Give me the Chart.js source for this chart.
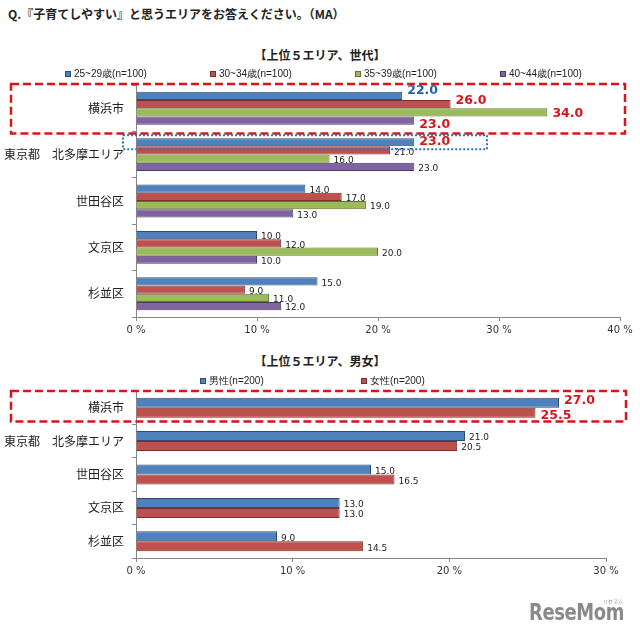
<!DOCTYPE html>
<html lang="ja">
<head>
    <meta charset="UTF-8">
    <title>子育てしやすいエリア</title>
    <style>
        body {
            margin: 0;
            background: #fff;
            width: 640px;
            height: 638px;
            position: relative;
            overflow: hidden;
            font-family: "Noto Sans CJK JP", sans-serif;
            color: #222;
        }

        .q-title {
            position: absolute;
            left: 8px;
            top: 5px;
            font-size: 12px;
            font-weight: bold;
        }

        .sub-title {
            position: absolute;
            left: 0;
            width: 640px;
            text-align: center;
            font-size: 12px;
            font-weight: bold;
        }

        .chart-box {
            position: absolute;
            left: 0;
            width: 640px;
        }

        .logo {
            position: absolute;
            left: 529px;
            top: 599px;
            font-family: "DejaVu Sans", sans-serif;
            font-weight: bold;
            font-size: 23px;
            color: #8a8a8a;
            transform: scaleX(0.78);
            transform-origin: left top;
            letter-spacing: -0.5px;
        }

        .logo-kana {
            position: absolute;
            left: 603px;
            top: 597px;
            font-size: 5px;
            color: #8a8a8a;
        }
    </style>
</head>
<body>
<div class="q-title">Q.『子育てしやすい』と思うエリアをお答えください。（MA）</div>
<div class="sub-title" style="top:46px;">【上位５エリア、世代】</div>
<div class="sub-title" style="top:352px;">【上位５エリア、男女】</div>

<div class="chart-box" style="top:0; height:345px;"><canvas id="ageChart"></canvas></div>
<div class="chart-box" style="top:345px; height:293px;"><canvas id="genderChart"></canvas></div>

<div class="logo-kana">リセマム</div>
<div class="logo">ReseMom</div>

<script src="https://cdn.jsdelivr.net/npm/chart.js"></script>
<script>
    // データ
    const areas = ['横浜市', '東京都　北多摩エリア', '世田谷区', '文京区', '杉並区'];
    const ageLabels = ['25~29歳(n=100)', '30~34歳(n=100)', '35~39歳(n=100)', '40~44歳(n=100)'];
    const age25 = [22.0, 23.0, 14.0, 10.0, 15.0];
    const age30 = [26.0, 21.0, 17.0, 12.0, 9.0];
    const age35 = [34.0, 16.0, 19.0, 20.0, 11.0];
    const age40 = [23.0, 23.0, 13.0, 10.0, 12.0];
    const ageTicks = [0, 10, 20, 30, 40];

    const genderLabels = ['男性(n=200)', '女性(n=200)'];
    const male = [27.0, 21.0, 15.0, 13.0, 9.0];
    const female = [25.5, 20.5, 16.5, 13.0, 14.5];
    const genderTicks = [0, 10, 20, 30];

    const fills = ['#4F81BD', '#C0504D', '#9BBB59', '#8064A2'];
    const edges = ['#2F4B6E', '#7A2F2D', '#5E7536', '#4C3B62'];
    const RED = '#D9141C';
    const BLUE = '#1F64AE';

    // 値ラベル
    const valueLabels = {
        id: 'valueLabels',
        afterDatasetsDraw(chart, args, opts) {
            const ctx = chart.ctx;
            chart.data.datasets.forEach((ds, di) => {
                chart.getDatasetMeta(di).data.forEach((bar, i) => {
                    const em = opts.emphasis[di + '-' + i];
                    ctx.save();
                    ctx.textBaseline = 'middle';
                    if (em) {
                        ctx.font = 'bold 12.5px "DejaVu Sans"';
                        ctx.fillStyle = em.color;
                        ctx.fillText(ds.data[i].toFixed(1), bar.x + 5, bar.y + em.dy);
                    } else {
                        ctx.font = '9px "DejaVu Sans"';
                        ctx.fillStyle = '#222';
                        ctx.fillText(ds.data[i].toFixed(1), bar.x + 4, bar.y + 2);
                    }
                    ctx.restore();
                });
            });
        }
    };

    // 凡例
    const boxLegend = {
        id: 'boxLegend',
        afterDraw(chart, args, o) {
            const ctx = chart.ctx;
            chart.data.datasets.forEach((ds, i) => {
                const x = o.start + i * o.step;
                ctx.save();
                ctx.fillStyle = ds.backgroundColor;
                ctx.fillRect(x, o.y - 3, 6, 6);
                ctx.strokeStyle = ds.borderColor;
                ctx.lineWidth = 1;
                ctx.strokeRect(x + 0.5, o.y - 2.5, 5, 5);
                ctx.fillStyle = '#222';
                ctx.font = '10px "Liberation Sans"';
                ctx.textBaseline = 'middle';
                ctx.fillText(ds.label, x + 9, o.y);
                ctx.restore();
            });
        }
    };

    // 強調枠
    const markBoxes = {
        id: 'markBoxes',
        afterDraw(chart, args, o) {
            const ctx = chart.ctx;
            const ys = chart.scales.y;
            const band = (ys.bottom - ys.top) / areas.length;
            o.boxes.forEach(b => {
                let y1, y2;
                if (b.bar) {
                    const el = chart.getDatasetMeta(b.bar[0]).data[b.bar[1]];
                    y1 = el.y - el.height / 2 - b.pad[0];
                    y2 = el.y + el.height / 2 + b.pad[1];
                } else {
                    y1 = ys.top + band * b.cat - b.pad[0];
                    y2 = ys.top + band * (b.cat + 1) + b.pad[1];
                }
                ctx.save();
                ctx.strokeStyle = b.color;
                ctx.lineWidth = b.width;
                ctx.setLineDash(b.dash);
                ctx.strokeRect(b.x1, y1, b.x2 - b.x1, y2 - y1);
                ctx.restore();
            });
        }
    };

    function makeScales(ticks, yWidth) {
        return {
            x: {
                min: ticks[0],
                max: ticks[ticks.length - 1],
                afterBuildTicks: s => { s.ticks = ticks.map(v => ({ value: v })); },
                afterFit: s => { s.height = 25; },
                grid: { drawOnChartArea: false, tickLength: 4, color: '#888' },
                border: { color: '#888' },
                ticks: {
                    padding: 3,
                    color: '#333',
                    font: { family: 'DejaVu Sans', size: 10 },
                    callback: v => v + ' %'
                }
            },
            y: {
                afterFit: s => { s.width = yWidth; },
                grid: { drawOnChartArea: false, tickLength: 4, color: '#888', offset: true },
                border: { color: '#888' },
                ticks: {
                    padding: 8,
                    color: '#222',
                    font: { family: 'Noto Sans CJK JP', size: 12 }
                }
            }
        };
    }

    // 世代別
    new Chart(document.getElementById('ageChart'), {
        type: 'bar',
        data: {
            labels: areas,
            datasets: [age25, age30, age35, age40].map((d, i) => ({
                label: ageLabels[i],
                data: d,
                backgroundColor: fills[i],
                borderColor: edges[i],
                borderWidth: 1,
                categoryPercentage: 0.71,
                barPercentage: 1.0
            }))
        },
        options: {
            indexAxis: 'y',
            responsive: true,
            maintainAspectRatio: false,
            animation: false,
            layout: { padding: { top: 85, right: 20, bottom: 3, left: 0 } },
            scales: makeScales(ageTicks, 136),
            plugins: {
                legend: { display: false },
                tooltip: { enabled: false },
                boxLegend: { y: 74, start: 65, step: 145 },
                valueLabels: {
                    emphasis: {
                        '0-0': { color: BLUE, dy: -5 },
                        '1-0': { color: RED, dy: -3 },
                        '2-0': { color: RED, dy: 1 },
                        '3-0': { color: RED, dy: 4 },
                        '0-1': { color: RED, dy: 0 }
                    }
                },
                markBoxes: {
                    boxes: [
                        { cat: 0, pad: [1, 2], x1: 11, x2: 625, color: RED, width: 2.5, dash: [8, 4] },
                        { bar: [0, 1], pad: [3, 3], x1: 123, x2: 487, color: '#2E75B6', width: 2, dash: [2, 2] }
                    ]
                }
            }
        },
        plugins: [valueLabels, boxLegend, markBoxes]
    });

    // 男女別
    new Chart(document.getElementById('genderChart'), {
        type: 'bar',
        data: {
            labels: areas,
            datasets: [male, female].map((d, i) => ({
                label: genderLabels[i],
                data: d,
                backgroundColor: fills[i],
                borderColor: edges[i],
                borderWidth: 1,
                categoryPercentage: 0.6,
                barPercentage: 1.0
            }))
        },
        options: {
            indexAxis: 'y',
            responsive: true,
            maintainAspectRatio: false,
            animation: false,
            layout: { padding: { top: 46, right: 34, bottom: 55, left: 0 } },
            scales: makeScales(genderTicks, 136),
            plugins: {
                legend: { display: false },
                tooltip: { enabled: false },
                boxLegend: { y: 36, start: 200, step: 161 },
                valueLabels: {
                    emphasis: {
                        '0-0': { color: RED, dy: -2 },
                        '1-0': { color: RED, dy: 3 }
                    }
                },
                markBoxes: {
                    boxes: [
                        { cat: 0, pad: [0, -3], x1: 11, x2: 626, color: RED, width: 2.5, dash: [8, 4] }
                    ]
                }
            }
        },
        plugins: [valueLabels, boxLegend, markBoxes]
    });
</script>
</body>
</html>
